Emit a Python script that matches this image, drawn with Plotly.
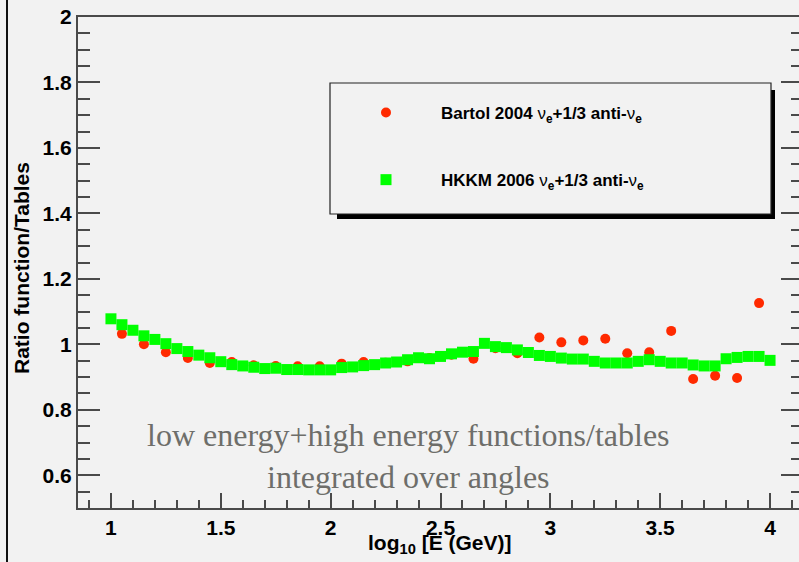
import plotly.graph_objects as go

# ---------------- data ----------------
hkkm_x = [1.00, 1.05, 1.10, 1.15, 1.20, 1.25, 1.30, 1.35, 1.40, 1.45,
          1.50, 1.55, 1.60, 1.65, 1.70, 1.75, 1.80, 1.85, 1.90, 1.95,
          2.00, 2.05, 2.10, 2.15, 2.20, 2.25, 2.30, 2.35, 2.40, 2.45,
          2.50, 2.55, 2.60, 2.65, 2.70, 2.75, 2.80, 2.85, 2.90, 2.95,
          3.00, 3.05, 3.10, 3.15, 3.20, 3.25, 3.30, 3.35, 3.40, 3.45,
          3.50, 3.55, 3.60, 3.65, 3.70, 3.75, 3.80, 3.85, 3.90, 3.95, 4.00]
hkkm_y = [1.078, 1.060, 1.043, 1.026, 1.015, 1.002, 0.987, 0.978, 0.967, 0.959,
          0.947, 0.938, 0.934, 0.930, 0.926, 0.927, 0.923, 0.923, 0.922, 0.922,
          0.922, 0.929, 0.931, 0.935, 0.938, 0.943, 0.946, 0.953, 0.959, 0.956,
          0.963, 0.971, 0.976, 0.978, 1.003, 0.993, 0.990, 0.983, 0.975, 0.966,
          0.963, 0.958, 0.955, 0.955, 0.948, 0.943, 0.943, 0.943, 0.948, 0.953,
          0.948, 0.943, 0.943, 0.937, 0.934, 0.934, 0.956, 0.960, 0.963, 0.963, 0.951]

bartol_x = [1.05, 1.15, 1.25, 1.35, 1.45, 1.55, 1.65, 1.75, 1.85, 1.95,
            2.05, 2.15, 2.25, 2.35, 2.45, 2.55, 2.65, 2.75, 2.85, 2.95,
            3.05, 3.15, 3.25, 3.35, 3.45, 3.55, 3.65, 3.75, 3.85, 3.95]
bartol_y = [1.032, 1.000, 0.976, 0.958, 0.943, 0.946, 0.936, 0.934, 0.933, 0.933,
            0.941, 0.946, 0.944, 0.948, 0.958, 0.968, 0.956, 0.988, 0.973, 1.021,
            1.006, 1.012, 1.017, 0.973, 0.976, 1.041, 0.894, 0.904, 0.897, 1.126]

bartol_name = "Bartol 2004 <span style='font-weight:normal'>ν</span><sub>e</sub>+1/3 anti-<span style='font-weight:normal'>ν</span><sub>e</sub>"
hkkm_name = "HKKM 2006 <span style='font-weight:normal'>ν</span><sub>e</sub>+1/3 anti-<span style='font-weight:normal'>ν</span><sub>e</sub>"

x_title = "log<sub>10</sub> [E (GeV)]"
y_title = "Ratio function/Tables"
note_text = "low energy+high energy functions/tables<br>integrated over angles"

# ---------------- layout geometry (pixels) ----------------
W, H = 799, 562
L, R, T, B = 78, 0, 17, 54
PW, PH = W - L - R, H - T - B


def px(xp):
    return (xp - L) / PW


def py(yp):
    return (H - B - yp) / PH


BG = "#f2f2f2"
AX = "#4a4a4a"
BOLD = dict(family="Liberation Sans, Arial, sans-serif", size=21, color="black", weight="bold")

fig = go.Figure()
fig.add_trace(go.Scatter(
    x=bartol_x, y=bartol_y, mode="markers", name=bartol_name,
    legendgroup="a",
    marker=dict(symbol="circle", size=10, color="#ff2a00", line=dict(width=0)),
))
fig.add_trace(go.Scatter(
    x=hkkm_x, y=hkkm_y, mode="markers", name=hkkm_name,
    legendgroup="b",
    marker=dict(symbol="square", size=11, color="#00ff00", line=dict(width=0)),
))
# invisible companion trace to carry the right-hand tick axis
fig.add_trace(go.Scatter(
    x=hkkm_x, y=hkkm_y, mode="markers", yaxis="y2", showlegend=False,
    hoverinfo="skip", marker=dict(opacity=0),
))

fig.update_layout(
    width=W, height=H,
    margin=dict(l=L, r=R, t=T, b=B, pad=0),
    paper_bgcolor=BG, plot_bgcolor=BG,
    showlegend=True,
    legend=dict(
        x=px(331), y=py(95), xanchor="left", yanchor="top",
        bgcolor="rgba(0,0,0,0)", borderwidth=0,
        font=dict(family="Liberation Sans, Arial, sans-serif", size=17, color="black", weight="bold"),
        itemwidth=100, tracegroupgap=42,
    ),
    xaxis=dict(
        range=[0.85, 4.1318], showgrid=False, zeroline=False,
        showline=True, linecolor=AX, linewidth=2, mirror=True,
        ticks="inside", ticklen=15, tickwidth=1.5, tickcolor=AX,
        tick0=1, dtick=0.5, tickfont=BOLD,
        minor=dict(ticks="inside", ticklen=8, tickwidth=1.5, tickcolor=AX, dtick=0.1, tick0=1, showgrid=False),
    ),
    yaxis=dict(
        range=[0.5, 2.0], showgrid=False, zeroline=False,
        showline=True, linecolor=AX, linewidth=2,
        ticks="inside", ticklen=22, tickwidth=1.5, tickcolor=AX,
        tick0=0, dtick=0.2, tickfont=BOLD,
        minor=dict(ticks="inside", ticklen=12, tickwidth=1.5, tickcolor=AX, dtick=0.05, tick0=0, showgrid=False),
    ),
    yaxis2=dict(
        range=[0.5, 2.0], overlaying="y", side="right", showgrid=False, zeroline=False,
        showline=False, showticklabels=False,
        ticks="inside", ticklen=18, tickwidth=1.5, tickcolor=AX,
        tick0=0, dtick=0.2,
        minor=dict(ticks="inside", ticklen=8, tickwidth=1.5, tickcolor=AX, dtick=0.05, tick0=0, showgrid=False),
    ),
)

shapes = [
    # canvas border on the left
    dict(type="line", xref="paper", yref="paper", x0=px(7), x1=px(7), y0=py(H), y1=py(0),
         line=dict(color="#111", width=2)),
    # legend shadow
    dict(type="rect", xref="paper", yref="paper", x0=px(337), x1=px(775), y0=py(219), y1=py(90),
         fillcolor="black", line=dict(width=0), layer="above"),
    # legend box
    dict(type="rect", xref="paper", yref="paper", x0=px(330), x1=px(771), y0=py(214), y1=py(83),
         fillcolor=BG, line=dict(color="#222", width=1.2), layer="above"),
]
fig.update_layout(shapes=shapes)

fig.add_annotation(
    text=y_title, xref="paper", yref="paper", x=px(21), y=py(268),
    xanchor="center", yanchor="middle", textangle=-90, showarrow=False, font=BOLD,
)
fig.add_annotation(
    text=x_title, xref="paper", yref="paper", x=px(440), y=py(529),
    xanchor="center", yanchor="top", showarrow=False, font=BOLD,
)
fig.add_annotation(
    text=note_text, xref="paper", yref="paper", x=px(408), y=py(456),
    xanchor="center", yanchor="middle", showarrow=False,
    font=dict(family="Liberation Serif, Times New Roman, serif", size=32, color="#6e6e6a"),
)

fig.write_html("out.html")
